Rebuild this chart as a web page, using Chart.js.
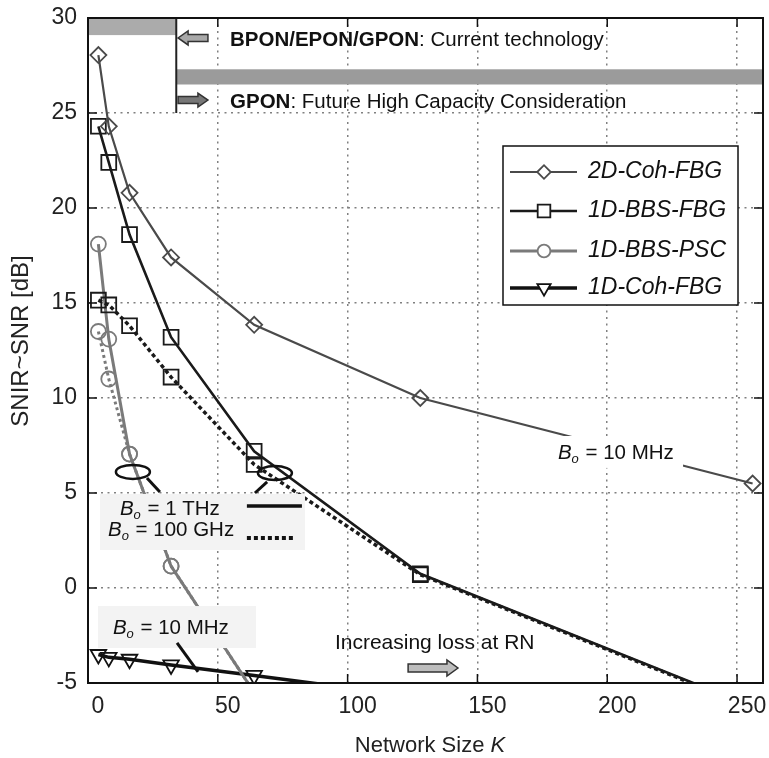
<!DOCTYPE html>
<html>
<head>
<meta charset="utf-8">
<script src="https://cdn.jsdelivr.net/npm/chart.js@4.4.1/dist/chart.umd.min.js"></script>
<style>
  html, body { margin: 0; padding: 0; background: #fff; }
  canvas { display: block; }
</style>
</head>
<body>
<canvas id="grafico" width="769" height="758"></canvas>
<script>
// network size K and SNIR-SNR [dB]
const kValues = [4, 8, 16, 32, 64, 128, 256];
const coh2dFbg = [28.05, 24.3, 20.8, 17.4, 13.85, 10.0, 5.5];
const bbsFbg1THz = [24.3, 22.4, 18.6, 13.2, 7.2, 0.75, -6.25];
const bbsFbg100GHz = [15.15, 14.9, 13.8, 11.1, 6.5, 0.7, -6.3];
const bbsPsc1THz = [18.1, 13.1, 7.05, 1.15, -5.5];
const bbsPsc100GHz = [13.5, 11.0, 7.05, 1.15, -5.5];
const coh1dFbg = [-3.5, -3.65, -3.75, -4.05, -4.6, -5.75];
const xTicks = [0, 50, 100, 150, 200, 250];
const yTicks = [-5, 0, 5, 10, 15, 20, 25, 30];

const FONT = "'Liberation Sans', Arial, sans-serif";

function pts(ys) {
  return ys.map((y, i) => ({ x: kValues[i], y }));
}

function serie(label, ys, color, width, style, radius, extra) {
  return Object.assign({
    label,
    data: pts(ys),
    borderColor: color,
    borderWidth: width,
    pointStyle: style,
    pointRadius: radius,
    pointBorderColor: color,
    pointBorderWidth: 1.8,
    pointBackgroundColor: 'rgba(255,255,255,0)',
    tension: 0,
    clip: 0,
    inLegend: true
  }, extra || {});
}

const datasets = [
  serie('2D-Coh-FBG', coh2dFbg, '#4a4a4a', 2.2, 'rectRot', 8),
  serie('1D-BBS-FBG', bbsFbg1THz, '#1a1a1a', 2.6, 'rect', 10.5),
  serie('1D-BBS-FBG 100 GHz', bbsFbg100GHz, '#1a1a1a', 3.5, 'rect', 10.5, { borderDash: [4, 3], inLegend: false }),
  serie('1D-BBS-PSC', bbsPsc1THz, '#7a7a7a', 3, 'circle', 7.5),
  serie('1D-BBS-PSC 100 GHz', bbsPsc100GHz, '#7a7a7a', 3, 'circle', 7.5, { borderDash: [3, 3], inLegend: false }),
  serie('1D-Coh-FBG', coh1dFbg, '#111111', 3.5, 'triangle', 9, { pointRotation: 180 })
];

function line(ctx, x1, y1, x2, y2) {
  ctx.beginPath();
  ctx.moveTo(x1, y1);
  ctx.lineTo(x2, y2);
  ctx.stroke();
}

function arrow(ctx, xTail, xTip, yc, shaft, head, headLen, fill) {
  const d = xTip > xTail ? 1 : -1;
  const xb = xTip - d * headLen;
  ctx.beginPath();
  ctx.moveTo(xTail, yc - shaft / 2);
  ctx.lineTo(xb, yc - shaft / 2);
  ctx.lineTo(xb, yc - head / 2);
  ctx.lineTo(xTip, yc);
  ctx.lineTo(xb, yc + head / 2);
  ctx.lineTo(xb, yc + shaft / 2);
  ctx.lineTo(xTail, yc + shaft / 2);
  ctx.closePath();
  ctx.fillStyle = fill;
  ctx.fill();
  ctx.strokeStyle = '#333';
  ctx.lineWidth = 1.5;
  ctx.stroke();
}

// "B_o = ..." label, x = left edge, y = middle
function boLabel(ctx, x, y, rest, size) {
  ctx.fillStyle = '#111';
  ctx.textBaseline = 'middle';
  ctx.textAlign = 'left';
  ctx.font = 'italic ' + size + 'px ' + FONT;
  ctx.fillText('B', x, y);
  let w = ctx.measureText('B').width;
  ctx.font = 'italic ' + Math.round(size * 0.65) + 'px ' + FONT;
  ctx.fillText('o', x + w, y + size * 0.3);
  w += ctx.measureText('o').width + 1;
  ctx.font = size + 'px ' + FONT;
  ctx.fillText(rest, x + w, y);
}

const decor = {
  id: 'decor',
  beforeDatasetsDraw(chart) {
    const { ctx, scales: { x, y } } = chart;
    const px = v => x.getPixelForValue(v), py = v => y.getPixelForValue(v);
    ctx.save();
    ctx.fillStyle = '#ababab';
    ctx.fillRect(px(0), py(30), px(34) - px(0), py(29.1) - py(30));
    ctx.fillStyle = '#9b9b9b';
    ctx.fillRect(px(34), py(27.3), px(260) - px(34), py(26.5) - py(27.3));
    ctx.strokeStyle = '#222';
    ctx.lineWidth = 2;
    line(ctx, px(34), py(30), px(34), py(25));
    ctx.restore();
  },
  afterDatasetsDraw(chart) {
    const { ctx, chartArea: a, scales: { x, y } } = chart;
    const px = v => x.getPixelForValue(v), py = v => y.getPixelForValue(v);
    ctx.save();

    // label backgrounds that hide the curves
    ctx.fillStyle = '#ffffff';
    ctx.fillRect(px(179), py(8.0), px(229.2) - px(179), py(6.32) - py(8.0));
    ctx.fillStyle = '#f3f3f3';
    ctx.fillRect(px(4.6), py(4.95), px(83.6) - px(4.6), py(2.0) - py(4.95));
    ctx.fillRect(px(3.85), py(-0.95), px(64.7) - px(3.85), py(-3.16) - py(-0.95));

    boLabel(ctx, px(181), py(7.11), ' = 10 MHz', 20.5);
    boLabel(ctx, px(12.3), py(4.16), ' = 1 THz', 20.5);
    boLabel(ctx, px(7.7), py(3.05), ' = 100 GHz', 20.5);
    boLabel(ctx, px(9.6), py(-2.11), ' = 10 MHz', 20.5);

    // line samples next to the bandwidth labels
    ctx.strokeStyle = '#111';
    ctx.lineWidth = 3.5;
    line(ctx, px(61.2), py(4.32), px(82.4), py(4.32));
    ctx.setLineDash([4, 3]);
    ctx.lineWidth = 4;
    line(ctx, px(61.2), py(2.63), px(79), py(2.63));
    ctx.setLineDash([]);

    // ellipses and pointers
    ctx.lineWidth = 2.5;
    ctx.beginPath();
    ctx.ellipse(px(17.3), py(6.11), 17, 7, 0, 0, Math.PI * 2);
    ctx.stroke();
    ctx.beginPath();
    ctx.ellipse(px(72), py(6.05), 17, 7, 0, 0, Math.PI * 2);
    ctx.stroke();
    ctx.lineWidth = 3;
    line(ctx, px(22.7), py(5.79), px(27.7), py(5.05));
    line(ctx, px(69), py(5.58), px(64.3), py(5.0));
    line(ctx, px(34.3), py(-2.89), px(42.4), py(-4.42));

    // increasing loss annotation
    ctx.fillStyle = '#111';
    ctx.font = '21px ' + FONT;
    ctx.textBaseline = 'middle';
    ctx.textAlign = 'left';
    ctx.fillText('Increasing loss at RN', px(95.1), py(-2.89));
    arrow(ctx, px(123.3), px(142.5), py(-4.21), 8, 16, 11, '#bdbdbd');

    // PON technology notes
    arrow(ctx, px(46.2), px(34.7), py(28.95), 7, 14, 10, '#a8a8a8');
    arrow(ctx, px(34.7), px(46.2), py(25.68), 7, 14, 10, '#777777');
    const notes = [
      ['BPON/EPON/GPON', ': Current technology', 28.84],
      ['GPON', ': Future High Capacity Consideration', 25.58]
    ];
    notes.forEach(([b, r, yv]) => {
      ctx.fillStyle = '#111';
      ctx.font = 'bold 20.5px ' + FONT;
      ctx.fillText(b, px(54.7), py(yv));
      const w = ctx.measureText(b).width;
      ctx.font = '20.5px ' + FONT;
      ctx.fillText(r, px(54.7) + w, py(yv));
    });

    // legend
    const lx = 503, ly = 146, lw = 235, lh = 159;
    ctx.fillStyle = '#fff';
    ctx.fillRect(lx, ly, lw, lh);
    ctx.strokeStyle = '#111';
    ctx.lineWidth = 1.5;
    ctx.strokeRect(lx, ly, lw, lh);
    const rows = [172, 211, 251, 288];
    chart.data.datasets.filter(d => d.inLegend).forEach((d, i) => {
      const yy = rows[i];
      ctx.strokeStyle = d.borderColor;
      ctx.lineWidth = d.borderWidth;
      line(ctx, 510, yy, 577, yy);
      ctx.fillStyle = '#fff';
      ctx.lineWidth = 1.8;
      Chart.helpers.drawPoint(ctx, {
        pointStyle: d.pointStyle,
        radius: d.pointRadius * 0.85,
        rotation: d.pointRotation || 0,
        borderWidth: 1.8
      }, 544, yy);
      ctx.fillStyle = '#111';
      ctx.font = 'italic 23px ' + FONT;
      ctx.textBaseline = 'middle';
      ctx.fillText(d.label, 588, yy);
    });

    // frame and inward ticks
    ctx.strokeStyle = '#111';
    ctx.lineWidth = 2;
    ctx.strokeRect(a.left, a.top, a.right - a.left, a.bottom - a.top);
    ctx.lineWidth = 1.5;
    xTicks.forEach(v => {
      const xx = px(v);
      line(ctx, xx, a.bottom, xx, a.bottom - 9);
      line(ctx, xx, a.top, xx, a.top + 9);
    });
    yTicks.forEach(v => {
      const yy = py(v);
      line(ctx, a.left, yy, a.left + 9, yy);
      line(ctx, a.right, yy, a.right - 9, yy);
    });

    // axis titles
    ctx.fillStyle = '#222';
    ctx.font = '22px ' + FONT;
    ctx.textBaseline = 'middle';
    ctx.textAlign = 'left';
    const t1 = 'Network Size ';
    const w1 = ctx.measureText(t1).width;
    ctx.font = 'italic 22px ' + FONT;
    const w2 = ctx.measureText('K').width;
    const x0 = 430 - (w1 + w2) / 2;
    ctx.font = '22px ' + FONT;
    ctx.fillText(t1, x0, 746);
    ctx.font = 'italic 22px ' + FONT;
    ctx.fillText('K', x0 + w1, 746);

    ctx.translate(21, 341);
    ctx.rotate(-Math.PI / 2);
    ctx.font = '24px ' + FONT;
    ctx.textAlign = 'center';
    ctx.fillText('SNIR~SNR [dB]', 0, 0);
    ctx.restore();
  }
};

const ctx = document.getElementById('grafico');

new Chart(ctx, {
  type: 'line',
  data: { datasets },
  options: {
    responsive: false,
    animation: false,
    layout: { autoPadding: false, padding: { left: 0, right: 6, top: 18, bottom: 0 } },
    plugins: { legend: { display: false }, tooltip: { enabled: false } },
    scales: {
      x: {
        type: 'linear',
        min: 0,
        max: 260,
        afterBuildTicks: s => { s.ticks = xTicks.map(v => ({ value: v })); },
        afterFit: s => {
          s.height = 75;
          s.paddingLeft = 0;
          s.paddingRight = 0;
        },
        grid: { color: '#808080', lineWidth: 1.5, drawTicks: false },
        border: { display: false, dash: [2, 4.5] },
        ticks: {
          font: { family: FONT, size: 23 },
          color: '#222',
          padding: 10,
          labelOffset: 10,
          maxRotation: 0
        }
      },
      y: {
        type: 'linear',
        min: -5,
        max: 30,
        afterBuildTicks: s => { s.ticks = yTicks.map(v => ({ value: v })); },
        afterFit: s => {
          s.width = 88;
          s.paddingTop = 0;
          s.paddingBottom = 0;
        },
        grid: { color: '#808080', lineWidth: 1.5, drawTicks: false },
        border: { display: false, dash: [2, 4.5] },
        ticks: {
          font: { family: FONT, size: 23 },
          color: '#222',
          padding: 11
        }
      }
    }
  },
  plugins: [decor]
});
</script>
</body>
</html>
